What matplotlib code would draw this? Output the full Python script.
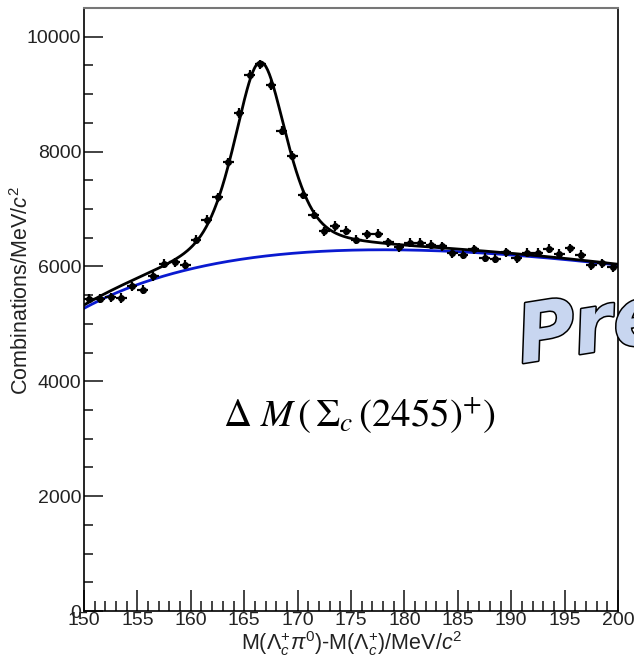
"""
Sigma_c(2455)+ mass difference fit, ROOT-ish style redone in matplotlib.
"""

import numpy as np
from matplotlib import pyplot as plt
import matplotlib.patheffects as pe
from matplotlib.ticker import MultipleLocator

plt.rcParams['font.family'] = ['Liberation Sans', 'DejaVu Sans']
plt.rcParams['mathtext.fontset'] = 'custom'
plt.rcParams['mathtext.rm'] = 'Liberation Sans'
plt.rcParams['mathtext.it'] = 'Liberation Sans:italic'
plt.rcParams['mathtext.bf'] = 'Liberation Sans:bold'

### data (1 MeV bins, 150-200) ###
bin_lo, bin_hi, bin_width = 150.0, 200.0, 1.0
counts = [5438, 5438, 5466, 5449, 5652, 5594, 5826, 6046, 6075, 6029,
          6464, 6812, 7205, 7810, 8670, 9339, 9520, 9160, 8365, 7925,
          7252, 6899, 6612, 6705, 6620, 6467, 6560, 6568, 6423, 6336,
          6412, 6412, 6377, 6353, 6231, 6203, 6300, 6151, 6133, 6249,
          6145, 6238, 6238, 6307, 6220, 6318, 6203, 6017, 6057, 5988]
count_err = 80

### fit result ###
# background: threshold shape, normalised at its maximum
bkg_norm, bkg_peak, bkg_threshold, bkg_power = 6290, 178.0, 135.0, 0.44
# signal: pseudo-Voigt
sig_amp, sig_mean, sig_hwhm, sig_frac_lorentz = 3390, 166.5, 2.95, 0.55


def Background(x):
    u = (x - bkg_threshold) / (bkg_peak - bkg_threshold)
    c = bkg_power / (bkg_peak - bkg_threshold)
    return bkg_norm * u ** bkg_power * np.exp(-c * (x - bkg_peak))


def Signal(x):
    d = (x - sig_mean) / sig_hwhm
    lor = 1.0 / (1.0 + d ** 2)
    gau = np.exp(-np.log(2) * d ** 2)
    return sig_amp * (sig_frac_lorentz * lor + (1 - sig_frac_lorentz) * gau)


fig = plt.figure(figsize=(6.34, 6.57), dpi=100)
ax = fig.add_axes([84 / 634, 1 - 611 / 657, (618 - 84) / 634, (611 - 8) / 657])

x_fit = np.linspace(bin_lo, bin_hi, 600)
ax.plot(x_fit, Background(x_fit), color='#0a1ad0', lw=2.0, zorder=2)
ax.plot(x_fit, Background(x_fit) + Signal(x_fit), color='black', lw=2.0, zorder=3)

centers = np.arange(bin_lo + bin_width / 2, bin_hi, bin_width)
ax.errorbar(centers, counts, xerr=bin_width / 2, yerr=count_err, fmt='o',
            color='black', ms=4, elinewidth=1.6, capsize=0, zorder=4)

ax.set_xlim(bin_lo, bin_hi)
ax.set_ylim(0, 10500)
ax.xaxis.set_major_locator(MultipleLocator(5))
ax.xaxis.set_minor_locator(MultipleLocator(1))
ax.yaxis.set_major_locator(MultipleLocator(2000))
ax.yaxis.set_minor_locator(MultipleLocator(500))
ax.tick_params(which='both', direction='in', top=False, right=False,
               labelsize=14, colors='#222222', width=1.2)
ax.tick_params(axis='x', which='major', length=15, pad=1)
ax.tick_params(axis='x', which='minor', length=7.5)
ax.tick_params(axis='y', which='major', length=13.5, pad=2)
ax.tick_params(axis='y', which='minor', length=6.5)
for side in ['left', 'bottom', 'right']:
    ax.spines[side].set_linewidth(1.2)
ax.spines['top'].set_color('#777777')
ax.spines['top'].set_linewidth(1.5)

fig.text(22 / 634, 1 - 291 / 657, r'Combinations/MeV/$c^{2}$', rotation=90,
         ha='center', va='center', fontsize=15.5, color='#222222')
fig.text(352 / 634, 1 - 644 / 657,
         r'M($\Lambda_{c}^{+}\pi^{0}$)-M($\Lambda_{c}^{+}$)/MeV/$c^{2}$',
         ha='center', va='center', fontsize=15.5, color='#222222')

fig.text(360 / 634, 1 - 415 / 657,
         r'$\Delta\ M\,\left(\,\Sigma_{c}\,\left(2455\right)^{+}\right)$',
         ha='center', va='center', fontsize=28, math_fontfamily='stix')

# watermark, cut by the canvas edge
wm = fig.text(512 / 634, 1 - 363 / 657, 'Pre', fontsize=58, fontweight='bold',
              style='italic', color='#c8d6f0', rotation=9, ha='left', va='baseline',
              family='DejaVu Sans', zorder=1)
wm.set_path_effects([pe.Stroke(linewidth=2.2, foreground='black'), pe.Normal()])

plt.savefig('out.png', dpi=100)
